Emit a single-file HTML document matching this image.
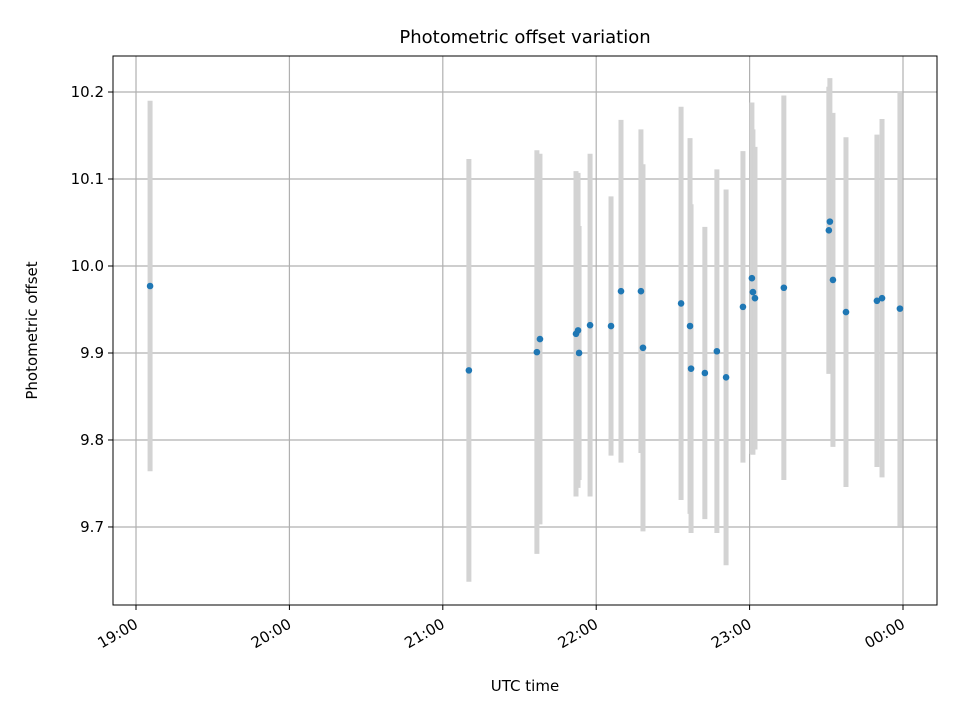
<!DOCTYPE html>
<html><head><meta charset="utf-8"><style>
body{margin:0;background:#fff;}
svg text{font-family:"DejaVu Sans","Liberation Sans",sans-serif;fill:#000;}
</style></head><body>
<svg id="chart" width="960" height="720" xmlns="http://www.w3.org/2000/svg">
<rect width="960" height="720" fill="#fff"/>
<g id="grid"></g><g id="bars"></g><g id="dots"></g><g id="axes"></g>
</svg>
<script>
const minutes=[5.5,130.2,156.8,158.0,172.1,172.9,173.3,177.6,185.8,189.7,197.5,198.3,213.2,216.7,217.1,222.5,227.2,230.8,237.4,240.9,241.3,242.1,253.4,271.0,271.4,272.6,277.7,289.8,291.8,298.8];
const offsets=[9.977,9.880,9.901,9.916,9.922,9.926,9.900,9.932,9.931,9.971,9.971,9.906,9.957,9.931,9.882,9.877,9.902,9.872,9.953,9.986,9.970,9.963,9.975,10.041,10.051,9.984,9.947,9.960,9.963,9.951];
const errors=[0.213,0.243,0.232,0.213,0.187,0.181,0.146,0.197,0.149,0.197,0.186,0.211,0.226,0.216,0.189,0.168,0.209,0.216,0.179,0.202,0.187,0.174,0.221,0.165,0.165,0.192,0.201,0.191,0.206,0.25];
const xTickVals=[0,60,120,180,240,300];
const xTickLabels=["19:00","20:00","21:00","22:00","23:00","00:00"];
const yTickVals=[9.7,9.8,9.9,10.0,10.1,10.2];
const yTickLabels=["9.7","9.8","9.9","10.0","10.1","10.2"];

const L=113,R=937,T=56,B=605;
const xMin=-9.0,xMax=313.3,yMin=9.6103,yMax=10.2414;
const X=v=>L+(v-xMin)/(xMax-xMin)*(R-L);
const Y=v=>B-(v-yMin)/(yMax-yMin)*(B-T);
const NS="http://www.w3.org/2000/svg";
function mk(tag,attrs,parent,text){const e=document.createElementNS(NS,tag);for(const k in attrs)e.setAttribute(k,attrs[k]);if(text!==undefined)e.textContent=text;document.getElementById(parent).appendChild(e);return e;}

xTickVals.forEach((v,i)=>{
  const g=mk('line',{x1:X(v),x2:X(v),y1:T,y2:B,stroke:'#b0b0b0','stroke-width':1.2},'grid');
  
  
  const t=mk('line',{x1:X(v),x2:X(v),y1:B,y2:B+5,stroke:'#000','stroke-width':1},'axes');
  
  
  const ax=X(v)+3, ay=B+22;
  const lb=mk('text',{x:ax,y:ay,'font-size':15,'text-anchor':'end',transform:`rotate(-30 ${ax} ${ay})`},'axes',xTickLabels[i]);
  
  
});
yTickVals.forEach((v,i)=>{
  const g=mk('line',{x1:L,x2:R,y1:Y(v),y2:Y(v),stroke:'#b0b0b0','stroke-width':1.2},'grid');
  
  
  const t=mk('line',{x1:L-5,x2:L,y1:Y(v),y2:Y(v),stroke:'#000','stroke-width':1},'axes');
  
  
  const lb=mk('text',{x:L-9,y:Y(v)+5,'font-size':15,'text-anchor':'end'},'axes',yTickLabels[i]);
  
  
});
minutes.forEach((m,i)=>{
  const b=mk('line',{x1:X(m),x2:X(m),y1:Y(offsets[i]+errors[i]),y2:Y(offsets[i]-errors[i]),stroke:'#d3d3d3','stroke-width':5},'bars');
  
  
});
minutes.forEach((m,i)=>{
  const d=mk('circle',{cx:X(m),cy:Y(offsets[i]),r:3.3,fill:'#1f77b4'},'dots');
  
  
});
const f=mk('rect',{x:L,y:T,width:R-L,height:B-T,fill:'none',stroke:'#000','stroke-width':1},'axes');


const tt=mk('text',{x:(L+R)/2,y:43,'font-size':18,'text-anchor':'middle'},'axes','Photometric offset variation');


const xl=mk('text',{x:(L+R)/2,y:691,'font-size':15,'text-anchor':'middle'},'axes','UTC time');


const yl=mk('text',{x:37,y:(T+B)/2,'font-size':15,'text-anchor':'middle',transform:`rotate(-90 37 ${(T+B)/2})`},'axes','Photometric offset');


</script>
</body></html>
